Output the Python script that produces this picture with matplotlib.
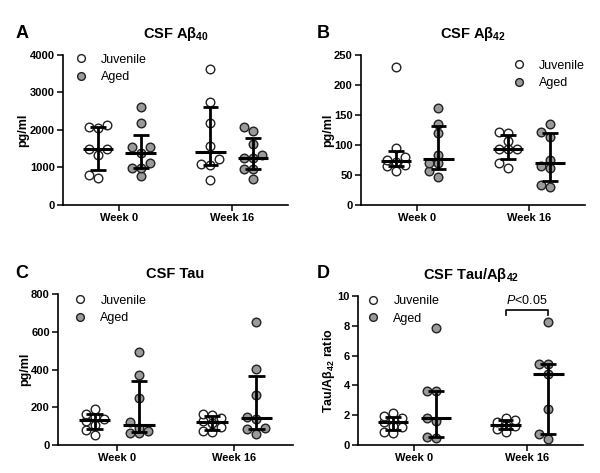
import numpy as np
import matplotlib
matplotlib.use('Agg')
import matplotlib.pyplot as plt

plt.rcParams['font.family'] = ['Liberation Sans', 'DejaVu Sans']
plt.rcParams['mathtext.fontset'] = 'custom'
plt.rcParams['mathtext.rm'] = 'Liberation Sans'
plt.rcParams['mathtext.bf'] = 'Liberation Sans:bold'
plt.rcParams['mathtext.it'] = 'Liberation Sans:italic'

weeks = ['Week 0', 'Week 16']
groups = ['Juvenile', 'Aged']

# CSF Abeta40 (pg/ml)
ab40_juv_w0 = [711, 791, 1333, 1493, 1493, 2061, 2080, 2133]
ab40_aged_w0 = [773, 978, 995, 1128, 1378, 1529, 1529, 2195, 2605]
ab40_juv_w16 = [649, 1067, 1080, 1227, 1573, 2195, 2755, 3627]
ab40_aged_w16 = [693, 950, 965, 1244, 1244, 1333, 1627, 1964, 2080]

# CSF Abeta42 (pg/ml)
ab42_juv_w0 = [57, 65, 67, 72, 74, 79, 94, 229]
ab42_aged_w0 = [47, 57, 69, 69, 83, 120, 135, 161]
ab42_juv_w16 = [62, 70.5, 93, 93, 93, 107, 120, 121]
ab42_aged_w16 = [29, 33, 61, 64, 75, 113, 121, 135]

# CSF Tau (pg/ml)
tau_juv_w0 = [53, 80, 105, 128, 136, 150, 167, 193]
tau_aged_w0 = [62, 66, 74, 92, 122, 249, 370, 495]
tau_juv_w16 = [72, 76, 96, 118, 126, 142, 158, 165]
tau_aged_w16 = [58, 85, 90, 136, 148, 265, 401, 652]

# CSF Tau/Abeta42 ratio
ratio_juv_w0 = [0.78, 0.85, 1.20, 1.25, 1.52, 1.78, 1.85, 1.96, 2.17]
ratio_aged_w0 = [0.50, 0.52, 1.63, 1.79, 3.62, 3.66, 7.88]
ratio_juv_w16 = [0.85, 1.10, 1.25, 1.34, 1.55, 1.68, 1.79]
ratio_aged_w16 = [0.40, 0.74, 2.41, 4.80, 5.42, 5.45, 8.26]

panels = [
    ('A', r'CSF A$\mathbf{β_{40}}$', 'pg/ml', [0, 1000, 2000, 3000, 4000],
     [ab40_juv_w0, ab40_aged_w0, ab40_juv_w16, ab40_aged_w16]),
    ('B', r'CSF A$\mathbf{β_{42}}$', 'pg/ml', [0, 50, 100, 150, 200, 250],
     [ab42_juv_w0, ab42_aged_w0, ab42_juv_w16, ab42_aged_w16]),
    ('C', 'CSF Tau', 'pg/ml', [0, 200, 400, 600, 800],
     [tau_juv_w0, tau_aged_w0, tau_juv_w16, tau_aged_w16]),
    ('D', r'CSF Tau/A$\mathbf{β_{42}}$', r'Tau/A$\mathbf{β_{42}}$ ratio', [0, 2, 4, 6, 8, 10],
     [ratio_juv_w0, ratio_aged_w0, ratio_juv_w16, ratio_aged_w16]),
]

boxes = [[0.105, 0.567, 0.375, 0.317],
         [0.602, 0.567, 0.373, 0.317],
         [0.097, 0.059, 0.391, 0.319],
         [0.597, 0.059, 0.375, 0.315]]
letter_xy = [(22, 33), (323, 33), (22, 274), (323, 274)]
legend_pos = [('upper left', (0.0, 1.04)), ('upper right', (1.02, 1.0)),
              ('upper left', (0.02, 1.03)), ('upper left', (-0.01, 1.04))]

fills = ['white', '#9a9a9a']
offset = 0.19


def swarm(ax, center, vals, step=9.0):
    # compact column scatter (3 columns max), worked out in pixel space
    p0 = ax.transData.transform((0, 0))
    p1 = ax.transData.transform((1, 1))
    sx, sy = p1[0] - p0[0], p1[1] - p0[1]
    placed, xs = [], []
    for v in vals:
        best, best_d = 0.0, -1
        for k in [0, -1, 1]:
            off = k * step
            d = min([np.hypot(off - po, (v - pv) * sy) for po, pv in placed] or [99])
            if d >= step * 0.72:
                best = off
                break
            if d > best_d + 0.5:
                best, best_d = off, d
        placed.append((best, v))
        xs.append(center + best / sx)
    return xs


fig = plt.figure(figsize=(6, 4.73), dpi=100)

for (letter, title, ylab, yticks, series), box, (lloc, lanchor), (lx, ly) in zip(
        panels, boxes, legend_pos, letter_xy):
    ax = fig.add_axes(box)
    ax.set_xlim(-0.5, 1.5)
    ax.set_ylim(yticks[0], yticks[-1])
    for i, vals in enumerate(series):
        w, g = divmod(i, 2)
        c = w + (-offset if g == 0 else offset)
        vals = sorted(vals)
        xs = swarm(ax, c, vals)
        ax.plot(xs, vals, 'o', ms=6.2, mfc=fills[g], mec='#222222', mew=1.0,
                zorder=2, label=groups[g] if w == 0 else None)
        q1, med, q3 = np.percentile(vals, [25, 50, 75], method='weibull')
        ax.hlines(med, c - 0.135, c + 0.135, color='k', lw=2.2, zorder=3)
        ax.vlines(c, q1, q3, color='k', lw=2.0, zorder=3)
        ax.hlines([q1, q3], c - 0.07, c + 0.07, color='k', lw=2.0, zorder=3)
    ax.set_xticks([0, 1])
    ax.set_xticklabels(weeks, fontweight='bold', fontsize=8)
    ax.set_yticks(yticks)
    ax.set_yticklabels([str(t) for t in yticks], fontweight='bold', fontsize=8)
    ax.tick_params(width=1.1, length=4, pad=2)
    for s in ['top', 'right']:
        ax.spines[s].set_visible(False)
    for s in ['left', 'bottom']:
        ax.spines[s].set_linewidth(1.2)
    ax.set_ylabel(ylab, fontweight='bold', fontsize=9, labelpad=0)
    ax.set_title(title, fontweight='bold', fontsize=10.5, pad=12)
    fig.text(lx / 600, 1 - ly / 473, letter, fontsize=13, fontweight='bold',
             va='center', ha='center')
    ax.legend(loc=lloc, bbox_to_anchor=lanchor, frameon=False, fontsize=9,
              handletextpad=0.6, labelspacing=0.45, borderaxespad=0,
              markerscale=0.9)

    if letter == 'D':
        # significance bracket between Week 16 groups
        x0, x1 = 1 - offset, 1 + offset
        ax.plot([x0, x0, x1, x1], [8.75, 9.05, 9.05, 8.75], color='k', lw=1.2,
                clip_on=False)
        ax.text(1, 9.25, r'$\mathit{P}$<0.05', ha='center', va='bottom', fontsize=9)

fig.savefig('out.png', dpi=100)
